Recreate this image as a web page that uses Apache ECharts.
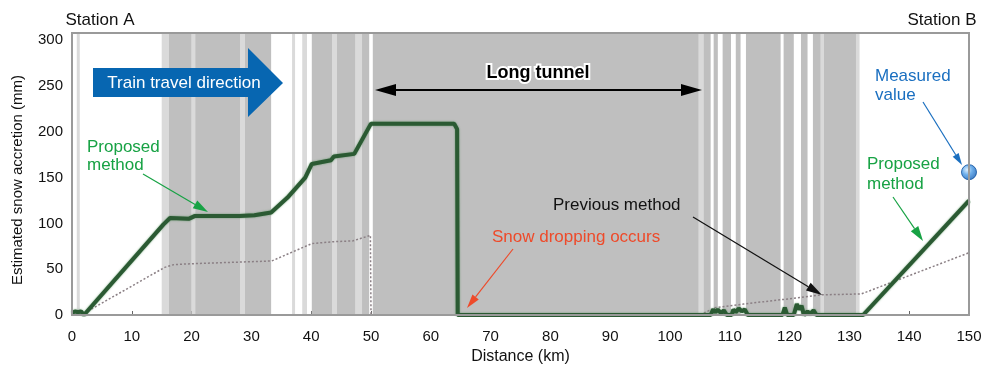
<!DOCTYPE html>
<html><head><meta charset="utf-8">
<script src="https://cdn.jsdelivr.net/npm/echarts@6/dist/echarts.min.js"></script>
<style>html,body{margin:0;padding:0;background:#fff}#c{width:982px;height:367px}</style>
</head><body><div id="c"></div>
<script>
// Tunnel sections along the line (km from Station A)
const tunnelSections = [
  [16.2,20.0],[20.6,28.1],[28.9,33.3],[40.1,43.5],[44.3,47.4],[48.5,49.7],
  [50.3,104.8],[105.6,106.8],[107.3,108.0],[108.8,110.2],[111.0,111.8],
  [112.7,118.5],[119.0,120.7],[121.9,123.0],[123.9,125.2],[125.7,131.1]
];
// Short / partial sections (lighter shading)
const lightSections = [
  [0.8,1.3],[15.0,16.2],[20.0,20.6],[28.1,28.9],[36.8,37.3],[38.5,39.3],
  [43.5,44.3],[47.4,48.5],[104.8,105.6],[125.2,125.7],[131.1,131.7]
];
// Proposed method estimate [km, mm]
const proposedMethod = [
  [0,2],[0.5,4],[1.0,3],[1.5,4],[2.0,0],[15.3,99],[16.4,106],[19.5,105],[20.5,108],
  [28,108],[30.5,109],[33.3,112],[36,128],[39,150],[40.1,165],[43.3,169],[43.8,173],
  [47.2,176],[50,209],[63.9,209],[64.4,203],[64.5,0],[106.8,0],[107.2,6],[107.6,3],
  [108.0,6],[108.5,2],[109,5],[109.5,0],[110.3,0],[110.6,6],[111.0,3],[111.5,7],
  [112,4],[112.5,6],[113,0],[118.8,0],[119.2,8],[119.6,0],[120.7,0],[121.2,12],
  [121.6,6],[122.0,10],[122.4,0],[123.0,4],[123.4,1],[124.0,5],[124.5,0],[132.3,0],[150,125]
];
// Previous method estimate [km, mm]
const previousMethod = [
  [1.5,0],[15.5,52],[17,55],[20,56],[33.4,59],[40.1,78],[43.7,80],[47,81],[49.9,87],
  [50.0,0],[105,0],[107.5,8],[112.3,12],[119,17],[125.2,22],[132,23],[150,68]
];
// Measured value at Station B [km, mm]
const measuredValue = [[150,156]];

const FONT = '"Liberation Sans", Arial, sans-serif';
const chart = echarts.init(document.getElementById('c'));

function bandSeries(data, color){
  return {
    type:'custom', data: data, z:1, silent:true, clip:true,
    encode:{x:[0,1]},
    renderItem:function(params, api){
      const cs = params.coordSys;
      const a = api.coord([api.value(0),0]);
      const b = api.coord([api.value(1),0]);
      return {type:'rect', shape:{x:a[0], y:cs.y, width:Math.max(b[0]-a[0],1), height:cs.height}, style:{fill:color}};
    }
  };
}

function arrow(x1,y1,x2,y2,color,lw,hl,hw){
  const ang = Math.atan2(y2-y1,x2-x1);
  const bx = x2-hl*Math.cos(ang), by = y2-hl*Math.sin(ang);
  const px = -Math.sin(ang)*hw/2, py = Math.cos(ang)*hw/2;
  return [
    {type:'line', z:100, shape:{x1:x1,y1:y1,x2:bx,y2:by}, style:{stroke:color, lineWidth:lw}},
    {type:'polygon', z:100, shape:{points:[[x2,y2],[bx+px,by+py],[bx-px,by-py]]}, style:{fill:color}}
  ];
}
function txt(x,y,text,color,size,align,weight){
  return {type:'text', z:101, x:x, y:y, style:{text:text, fill:color, font:(weight||'normal')+' '+size+'px '+FONT, align:align||'left', verticalAlign:'middle'}};
}

const graphics = [].concat(
  [txt(100,20,'Station A','#111',17,'center'), txt(942,20,'Station B','#111',17,'center')],
  [{type:'polygon', z:100, shape:{points:[[93,68],[248,68],[248,48],[283,83],[248,117],[248,97],[93,97]]}, style:{fill:'#0766b1'}},
   txt(184,83,'Train travel direction','#fff',17,'center')],
  [{type:'line', z:100, shape:{x1:390,y1:90,x2:688,y2:90}, style:{stroke:'#000', lineWidth:2}},
   {type:'polygon', z:100, shape:{points:[[375,90],[396,84],[396,96]]}, style:{fill:'#000'}},
   {type:'polygon', z:100, shape:{points:[[702,90],[681,84],[681,96]]}, style:{fill:'#000'}},
   {type:'text', z:101, x:538, y:73, style:{text:'Long tunnel', fill:'#000', stroke:'#fff', lineWidth:4, strokeFirst:true, font:'bold 18px '+FONT, align:'center', verticalAlign:'middle'}}],
  [txt(87,147,'Proposed','#17a244',17), txt(87,165,'method','#17a244',17)],
  arrow(143,174,208,212,'#17a244',1.2,15,9),
  [txt(867,164,'Proposed','#17a244',17), txt(867,184,'method','#17a244',17)],
  arrow(893,197,923,241,'#17a244',1.2,15,9),
  [txt(875,76,'Measured','#1a6fc0',17), txt(875,95,'value','#1a6fc0',17)],
  arrow(923,102,962,165,'#1a6fc0',1.2,12,7),
  [txt(492,237,'Snow dropping occurs','#ee4a2a',17)],
  arrow(513,249,467,308,'#ee4a2a',1.2,14,8),
  [txt(553,205,'Previous method','#111',17)],
  arrow(693,217,822,295,'#111',1.2,16,9),
  [{type:'rect', z:99, shape:{x:72,y:33,width:897,height:282}, style:{stroke:'#9a9a9a', fill:null, lineWidth:2}}]
);

chart.setOption({
  animation:false,
  backgroundColor:'#fff',
  grid:{left:72, right:13, top:33, bottom:52, containLabel:false, outerBoundsMode:'none'},
  xAxis:{
    type:'value', min:0, max:150, interval:10,
    name:'Distance (km)', nameLocation:'middle', nameGap:31,
    nameTextStyle:{fontFamily:FONT, fontSize:16, color:'#111'},
    axisLine:{show:true, lineStyle:{color:'#999', width:2}},
    axisTick:{show:true, inside:true, length:4, lineStyle:{color:'#666'}},
    axisLabel:{fontFamily:FONT, fontSize:15, color:'#111', margin:14},
    splitLine:{show:false}
  },
  yAxis:{
    type:'value', min:0, max:308, interval:50,
    name:'Estimated snow accretion (mm)', nameLocation:'middle', nameGap:47, nameRotate:90,
    nameTextStyle:{fontFamily:FONT, fontSize:15, color:'#111', padding:[0,12,0,0]},
    axisLine:{show:true, lineStyle:{color:'#999', width:2}},
    axisTick:{show:false},
    axisLabel:{fontFamily:FONT, fontSize:15, color:'#111', margin:9, formatter:function(v){return v%50===0? String(v):'';}},
    splitLine:{show:false}
  },
  series:[
    bandSeries(lightSections,'#dadada'),
    bandSeries(tunnelSections,'#bfbfbf'),
    {type:'line', data:previousMethod, z:3, symbol:'none', silent:true,
     lineStyle:{color:'#8a7f84', width:1.5, type:[2,2]}},
    {type:'line', data:proposedMethod, z:4, symbol:'none', silent:true,
     lineStyle:{color:'#2b5a33', width:4, shadowBlur:2, shadowColor:'rgba(60,130,70,0.7)'}},
    {type:'scatter', data:measuredValue, z:6, symbolSize:15, clip:false, silent:true,
     itemStyle:{borderColor:'#0a4d9e', borderWidth:1,
       color:new echarts.graphic.RadialGradient(0.38,0.35,0.7,[{offset:0,color:'#d6ecff'},{offset:0.45,color:'#4a9be6'},{offset:1,color:'#0b56b0'}])}}
  ],
  graphic:graphics
});
</script></body></html>
